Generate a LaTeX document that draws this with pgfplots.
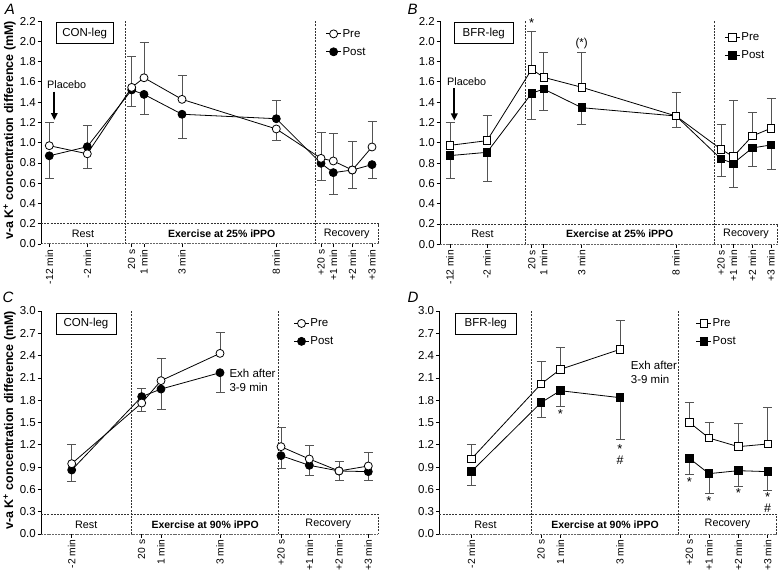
\documentclass[border=0pt]{standalone}
\usepackage{fontspec}
\setmainfont{Liberation Sans}
\usepackage{pgfplots}
\pgfplotsset{compat=1.18}
\usepackage{pgfplotstable}
\usetikzlibrary{arrows.meta}

\definecolor{ebar}{gray}{0.33}
\newcommand{\fs}[1]{\fontsize{#1}{#1}\selectfont}

% x = position along the (non-linear) time axis, pre/post = means, pe/poe = one-sided SD (sign = direction)
\pgfplotstableread{
x pre pe post poe
8.3 0.97 0.23 0.87 -0.22
46.3 0.89 -0.14 0.96 0.21
90.7 1.545 0.31 1.52 -0.165
103 1.64 0.35 1.476 -0.196
141 1.427 0.24 1.28 -0.24
235.3 1.135 -0.115 1.236 0.184
280 0.845 0.26 0.796 -0.166
292.3 0.819 0.273 0.704 -0.214
311.3 0.73 0.283 0.73 -0.18
331 0.957 0.25 0.783 -0.135
}\tabA

\pgfplotstableread{
x pre pe post poe
10 0.975 0.224 0.874 -0.224
47 1.021 0.247 0.906 -0.289
91.7 1.724 0.371 1.488 -0.253
103.7 1.645 0.243 1.53 -0.207
141.7 1.547 0.343 1.346 -0.16
236 1.264 0.234 1.264 -0.115
281 0.936 0.25 0.841 -0.176
293.3 0.864 0.558 0.798 -0.236
312.3 1.067 0.233 0.949 -0.184
331 1.143 0.292 0.979 -0.24
}\tabB

\pgfplotstableread{
x pre pe post poe
30.7 0.946 0.264 0.861 -0.157
100.7 1.762 -0.112 1.848 0.112
120 2.063 0.30 1.95 -0.27
179 2.43 0.283 2.17 -0.264
210 nan 0 nan 0
240 1.175 0.265 1.054 -0.171
268.3 1.009 0.184 0.924 -0.13
298 0.848 0.134 0.848 -0.126
327.3 0.915 0.184 0.839 -0.122
}\tabC

\pgfplotstableread{
x pre pe post poe
32 1.009 0.202 0.839 -0.184
101.7 2.018 0.305 1.767 -0.197
121 2.215 0.296 1.928 -0.215
180.7 2.484 0.386 1.834 -0.565
215 nan 0 nan 0
250 1.502 0.265 1.018 -0.215
269.7 1.291 0.207 0.812 -0.265
299 1.175 0.314 0.852 -0.211
328.4 1.211 0.489 0.839 -0.252
}\tabD

\tikzset{
  regdash/.style={draw=black!80, line width=0.8pt, dash pattern=on 2pt off 1.2pt},
  % box of the asterisk node reduced to its ink, so that anchor=center sits on the ink
  sig/.style={font=\fs{13}, anchor=center, inner sep=0pt, text height=9.3pt, text depth=-5.8pt},
  hash/.style={font=\fs{12.5}, anchor=center, inner sep=0pt, text height=8.6pt, text depth=0pt},
}

\pgfplotsset{
  panel/.style={
    scale only axis, clip=false,
    axis x line*=bottom, axis y line*=left,
    xmin=0, ymin=0,
    x axis line style={draw=black!60, dash pattern=on 2pt off 0.8pt, line width=1pt},
    y axis line style={draw=black, line width=0.8pt},
    tick align=outside, major tick length=3.5pt,
    tick style={draw=black, line width=0.8pt, solid},
    xticklabel style={rotate=90, anchor=east, font=\fs{10.3}, inner sep=2pt},
    yticklabel style={font=\fs{11.5}, inner sep=1.5pt, /pgf/number format/.cd, fixed, fixed zerofill, precision=1, /tikz/.cd},
    /pgf/number format/assume math mode=true,
    unbounded coords=jump,
    ylabel style={font=\bfseries\fs{12.5}, at={(axis description cs:-0.093,0.51)}, anchor=center},
    legend cell align=left,
    legend image code/.code={\draw[mark repeat=2,mark phase=2,##1] plot coordinates {(0pt,0pt)(7.5pt,0pt)(15pt,0pt)};},
    legend style={draw=none, fill=none, anchor=west, font=\fs{11.5}, inner sep=0pt, row sep=6.5pt, nodes={inner sep=1pt}, /tikz/every even column/.append style={column sep=2.5pt}},
  },
  preC/.style={black, line width=0.8pt, mark=*, mark size=4pt, mark options={solid, fill=white, draw=black, line width=0.8pt}},
  postC/.style={black, line width=0.8pt, mark=*, mark size=4pt, mark options={solid, fill=black, draw=black, line width=0.8pt}},
  preS/.style={black, line width=0.8pt, mark=square*, mark size=3.8pt, mark options={solid, fill=white, draw=black, line width=0.8pt}},
  postS/.style={black, line width=0.8pt, mark=square*, mark size=3.8pt, mark options={solid, fill=black, draw=black, line width=0.8pt}},
  errup/.style={forget plot, draw=none, mark=none,
    /pgfplots/error bars/y explicit, /pgfplots/error bars/y dir=plus,
    /pgfplots/error bars/error bar style={draw=ebar, line width=0.8pt, solid},
    /pgfplots/error bars/error mark options={rotate=90, draw=ebar, mark size=4.5pt, line width=0.8pt}},
  errdn/.style={forget plot, draw=none, mark=none,
    /pgfplots/error bars/y explicit, /pgfplots/error bars/y dir=minus,
    /pgfplots/error bars/error bar style={draw=ebar, line width=0.8pt, solid},
    /pgfplots/error bars/error mark options={rotate=90, draw=ebar, mark size=4.5pt, line width=0.8pt}},
}

\begin{document}
\begin{tikzpicture}
\path[use as bounding box] (0pt,0pt) rectangle (778pt,576pt);
\node[font=\itshape\fs{15}] at (10pt,567pt) {A};
\node[font=\itshape\fs{15}] at (412.5pt,567pt) {B};
\node[font=\itshape\fs{15}] at (8pt,278.5pt) {C};
\node[font=\itshape\fs{15}] at (413pt,278.5pt) {D};

% ---------------- A ----------------
\begin{axis}[panel, at={(41pt,332pt)}, anchor=south west, width=337.5pt, height=223pt,
  xmax=337.5, ymax=2.2,
  ytick={0,0.2,0.4,0.6,0.8,1.0,1.2,1.4,1.6,1.8,2.0,2.2},
  xtick={8.3,46.3,90.7,103,141,235.3,280,292.3,311.3,331},
  xticklabels={-12 min,-2 min,20 s,1 min,3 min,8 min,+20 s,+1 min,+2 min,+3 min},
  ylabel={v-a K\textsuperscript{+} concentration difference (mM)},
  legend style={at={(0.843,0.902)}}]
\draw[regdash] (axis cs:84,0) -- (axis cs:84,2.2);
\draw[regdash] (axis cs:274,0) -- (axis cs:274,2.2);
\draw[regdash] (axis cs:0,0.2) -- (axis cs:337.5,0.2) -- (axis cs:337.5,0);
\node[font=\fs{10.8}] at (axis cs:42,0.1) {Rest};
\node[font=\bfseries\fs{10.5}] at (axis cs:180.7,0.1) {Exercise at 25\% iPPO};
\node[font=\fs{10.8}] at (axis cs:305.7,0.1) {Recovery};
\node[draw=black, line width=0.8pt, minimum width=57.3pt, minimum height=20.6pt, inner sep=0pt, font=\fs{11.5}] at (axis cs:43.7,2.08) {CON-leg};
\node[font=\fs{10.8}] at (axis cs:25.7,1.576) {Placebo};
\draw[-{Triangle[length=7pt,width=6.5pt]}, line width=1.8pt] (axis cs:13.3,1.502) -- (axis cs:13.3,1.223);
\addplot[errup, restrict expr to domain={\thisrow{poe}}{0.001:10}] table[x=x,y=post,y error=poe] {\tabA};
\addplot[errdn, restrict expr to domain={\thisrow{poe}}{-10:-0.001}] table[x=x,y=post,y error expr={-\thisrow{poe}}] {\tabA};
\addplot[errup, restrict expr to domain={\thisrow{pe}}{0.001:10}] table[x=x,y=pre,y error=pe] {\tabA};
\addplot[errdn, restrict expr to domain={\thisrow{pe}}{-10:-0.001}] table[x=x,y=pre,y error expr={-\thisrow{pe}}] {\tabA};
\addplot[postC, forget plot] table[x=x,y=post] {\tabA};
\addplot[preC, forget plot] table[x=x,y=pre] {\tabA};
\addlegendimage{preC}\addlegendentry{Pre}
\addlegendimage{postC}\addlegendentry{Post}
\end{axis}

% ---------------- B ----------------
\begin{axis}[panel, at={(440pt,331.7pt)}, anchor=south west, width=337.7pt, height=223.3pt,
  xmax=337.7, ymax=2.2,
  ytick={0,0.2,0.4,0.6,0.8,1.0,1.2,1.4,1.6,1.8,2.0,2.2},
  xtick={10,47,91.7,103.7,141.7,236,281,293.3,312.3,331},
  xticklabels={-12 min,-2 min,20 s,1 min,3 min,8 min,+20 s,+1 min,+2 min,+3 min},
  legend style={at={(0.842,0.887)}}]
\draw[regdash] (axis cs:85,0) -- (axis cs:85,2.2);
\draw[regdash] (axis cs:274.3,0) -- (axis cs:274.3,2.2);
\draw[regdash] (axis cs:0,0.2) -- (axis cs:337.7,0.2) -- (axis cs:337.7,0);
\node[font=\fs{10.8}] at (axis cs:42.5,0.1) {Rest};
\node[font=\bfseries\fs{10.5}] at (axis cs:179.7,0.1) {Exercise at 25\% iPPO};
\node[font=\fs{10.8}] at (axis cs:306,0.1) {Recovery};
\node[draw=black, line width=0.8pt, minimum width=59pt, minimum height=20.6pt, inner sep=0pt, font=\fs{11.5}] at (axis cs:43.8,2.08) {BFR-leg};
\node[font=\fs{10.8}] at (axis cs:26.7,1.60) {Placebo};
\draw[-{Triangle[length=7pt,width=6.5pt]}, line width=1.8pt] (axis cs:14.3,1.535) -- (axis cs:14.3,1.22);
\node[sig] at (axis cs:91.7,2.177) {*};
\node[font=\fs{11.5}] at (axis cs:141.7,1.98) {(*)};
\addplot[errup, restrict expr to domain={\thisrow{poe}}{0.001:10}] table[x=x,y=post,y error=poe] {\tabB};
\addplot[errdn, restrict expr to domain={\thisrow{poe}}{-10:-0.001}] table[x=x,y=post,y error expr={-\thisrow{poe}}] {\tabB};
\addplot[errup, restrict expr to domain={\thisrow{pe}}{0.001:10}] table[x=x,y=pre,y error=pe] {\tabB};
\addplot[errdn, restrict expr to domain={\thisrow{pe}}{-10:-0.001}] table[x=x,y=pre,y error expr={-\thisrow{pe}}] {\tabB};
\addplot[postS, forget plot] table[x=x,y=post] {\tabB};
\addplot[preS, forget plot] table[x=x,y=pre] {\tabB};
\addlegendimage{preS}\addlegendentry{Pre}
\addlegendimage{postS}\addlegendentry{Post}
\end{axis}

% ---------------- C ----------------
\begin{axis}[panel, at={(41pt,42pt)}, anchor=south west, width=337pt, height=223pt,
  xmax=337, ymax=3.0,
  ytick={0,0.3,0.6,0.9,1.2,1.5,1.8,2.1,2.4,2.7,3.0},
  xtick={30.7,100.7,120,179,240,268.3,298,327.3},
  xticklabels={-2 min,20 s,1 min,3 min,+20 s,+1 min,+2 min,+3 min},
  ylabel={v-a K\textsuperscript{+} concentration difference (mM)},
  legend style={at={(0.749,0.904)}}]
\draw[regdash] (axis cs:90.7,0) -- (axis cs:90.7,3.0);
\draw[regdash] (axis cs:237.7,0) -- (axis cs:237.7,3.0);
\draw[regdash] (axis cs:0,0.265) -- (axis cs:337,0.265) -- (axis cs:337,0);
\node[font=\fs{10.8}] at (axis cs:45.3,0.13) {Rest};
\node[font=\bfseries\fs{10.5}] at (axis cs:164.2,0.13) {Exercise at 90\% iPPO};
\node[font=\fs{10.8}] at (axis cs:287.3,0.13) {Recovery};
\node[draw=black, line width=0.8pt, minimum width=60pt, minimum height=20.7pt, inner sep=0pt, font=\fs{11.5}] at (axis cs:45,2.83) {CON-leg};
\node[font=\fontsize{11.5}{14}\selectfont, align=left, anchor=west, inner sep=0pt] at (axis cs:188.3,2.065) {Exh after\\3-9 min};
\addplot[errup, restrict expr to domain={\thisrow{poe}}{0.001:10}] table[x=x,y=post,y error=poe] {\tabC};
\addplot[errdn, restrict expr to domain={\thisrow{poe}}{-10:-0.001}] table[x=x,y=post,y error expr={-\thisrow{poe}}] {\tabC};
\addplot[errup, restrict expr to domain={\thisrow{pe}}{0.001:10}] table[x=x,y=pre,y error=pe] {\tabC};
\addplot[errdn, restrict expr to domain={\thisrow{pe}}{-10:-0.001}] table[x=x,y=pre,y error expr={-\thisrow{pe}}] {\tabC};
\addplot[postC, forget plot] table[x=x,y=post] {\tabC};
\addplot[preC, forget plot] table[x=x,y=pre] {\tabC};
\addlegendimage{preC}\addlegendentry{Pre}
\addlegendimage{postC}\addlegendentry{Post}
\end{axis}

% ---------------- D ----------------
\begin{axis}[panel, at={(439.3pt,42pt)}, anchor=south west, width=337.4pt, height=223pt,
  xmax=337.4, ymax=3.0,
  ytick={0,0.3,0.6,0.9,1.2,1.5,1.8,2.1,2.4,2.7,3.0},
  xtick={32,101.7,121,180.7,250,269.7,299,328.4},
  xticklabels={-2 min,20 s,1 min,3 min,+20 s,+1 min,+2 min,+3 min},
  legend style={at={(0.760,0.904)}}]
\draw[regdash] (axis cs:92.3,0) -- (axis cs:92.3,3.0);
\draw[regdash] (axis cs:239,0) -- (axis cs:239,3.0);
\draw[regdash] (axis cs:0,0.265) -- (axis cs:337.4,0.265) -- (axis cs:337.4,0);
\node[font=\fs{10.8}] at (axis cs:46.2,0.13) {Rest};
\node[font=\bfseries\fs{10.5}] at (axis cs:165.7,0.13) {Exercise at 90\% iPPO};
\node[font=\fs{10.8}] at (axis cs:288.2,0.13) {Recovery};
\node[draw=black, line width=0.8pt, minimum width=60.3pt, minimum height=20.7pt, inner sep=0pt, font=\fs{11.5}] at (axis cs:46.5,2.83) {BFR-leg};
\node[font=\fontsize{11.5}{14}\selectfont, align=left, anchor=west, inner sep=0pt] at (axis cs:191.4,2.17) {Exh after\\3-9 min};
\node[sig] at (axis cs:121,1.62) {*};
\node[sig] at (axis cs:180.7,1.15) {*};
\node[hash] at (axis cs:180.7,0.995) {\#};
\node[sig] at (axis cs:250,0.70) {*};
\node[sig] at (axis cs:269.7,0.444) {*};
\node[sig] at (axis cs:299,0.556) {*};
\node[sig] at (axis cs:328.4,0.50) {*};
\node[hash] at (axis cs:328.4,0.346) {\#};
\addplot[errup, restrict expr to domain={\thisrow{poe}}{0.001:10}] table[x=x,y=post,y error=poe] {\tabD};
\addplot[errdn, restrict expr to domain={\thisrow{poe}}{-10:-0.001}] table[x=x,y=post,y error expr={-\thisrow{poe}}] {\tabD};
\addplot[errup, restrict expr to domain={\thisrow{pe}}{0.001:10}] table[x=x,y=pre,y error=pe] {\tabD};
\addplot[errdn, restrict expr to domain={\thisrow{pe}}{-10:-0.001}] table[x=x,y=pre,y error expr={-\thisrow{pe}}] {\tabD};
\addplot[postS, forget plot] table[x=x,y=post] {\tabD};
\addplot[preS, forget plot] table[x=x,y=pre] {\tabD};
\addlegendimage{preS}\addlegendentry{Pre}
\addlegendimage{postS}\addlegendentry{Post}
\end{axis}
\end{tikzpicture}
\end{document}
